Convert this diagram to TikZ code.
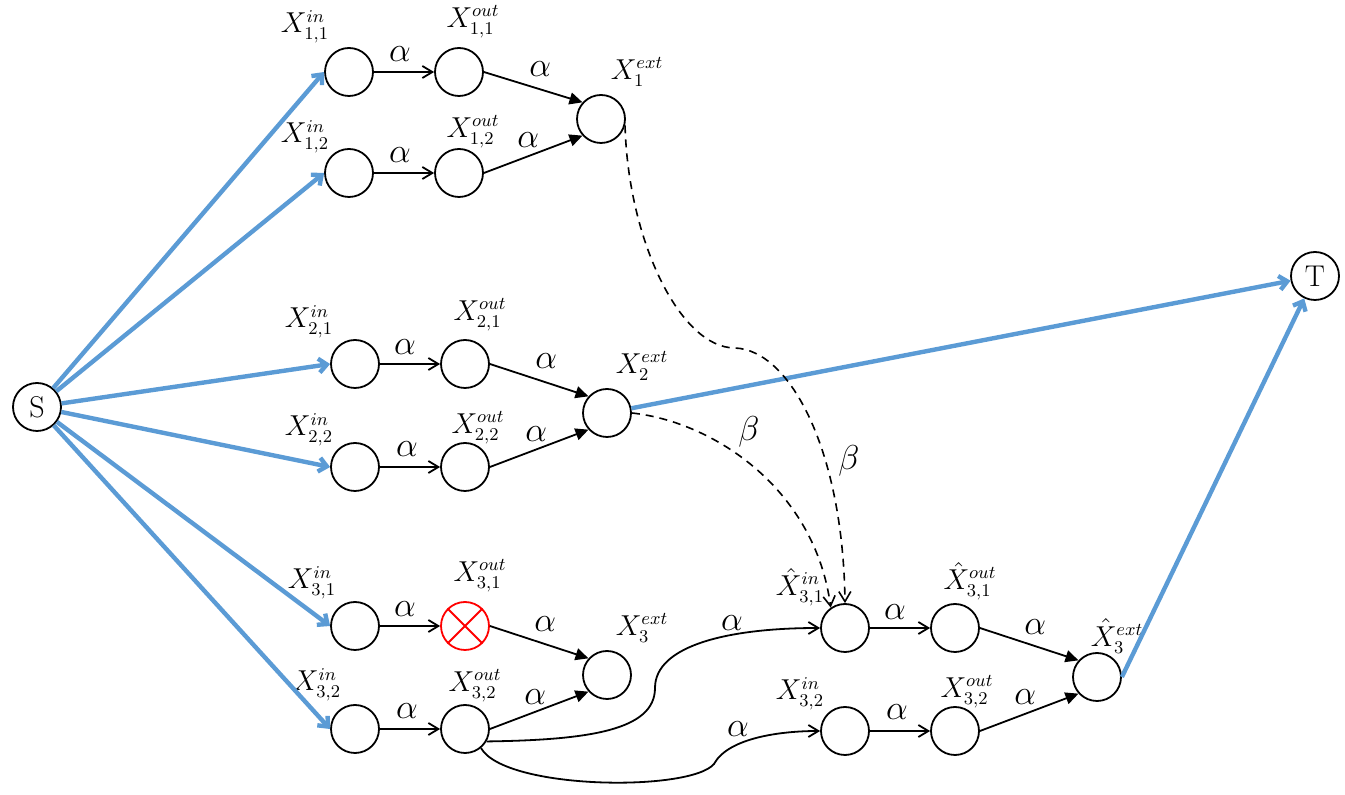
\documentclass[tikz,border=0pt]{standalone}
\usetikzlibrary{arrows.meta,calc}
\definecolor{myblue}{RGB}{91,155,213}
\begin{document}
\begin{tikzpicture}[x=0.5pt,y=-0.5pt,
  nd/.style={circle,draw,line width=0.9pt,minimum size=24pt,inner sep=0pt},
  lbl/.style={font=\fontsize{13.5}{15}\selectfont, inner sep=0pt},
  alab/.style={font=\fontsize{19}{21}\selectfont, inner sep=0pt},
  st/.style={font=\fontsize{15}{17}\selectfont},
  eo/.style={line width=0.9pt,-{Straight Barb[length=5pt,width=6pt]}},
  ef/.style={line width=0.9pt,-{Triangle[length=6.5pt,width=6pt]}},
  bl/.style={draw=myblue, line width=2.2pt, -{Straight Barb[length=4pt,width=7pt]}},
  dsh/.style={line width=0.8pt, dash pattern=on 4pt off 3pt, -{Straight Barb[length=5pt,width=6pt]}}
]
\useasboundingbox (0,0) rectangle (1345,795);

% nodes
\node[nd,st] (S) at (37,407) {S};
\node[nd,st] (T) at (1315,276) {T};

\node[nd] (a11) at (349,72) {};
\node[nd] (b11) at (459,72) {};
\node[nd] (a12) at (349,173) {};
\node[nd] (b12) at (459,173) {};
\node[nd] (c1) at (601,119) {};

\node[nd] (a21) at (355,364) {};
\node[nd] (b21) at (465,364) {};
\node[nd] (a22) at (355,467) {};
\node[nd] (b22) at (465,467) {};
\node[nd] (c2) at (607,413) {};

\node[nd] (a31) at (355,626) {};
\node[nd,draw=red] (b31) at (465,626) {};
\draw[red,line width=0.9pt] (b31.45) -- (b31.225) (b31.135) -- (b31.-45);
\node[nd] (a32) at (355,729) {};
\node[nd] (b32) at (465,729) {};
\node[nd] (c3) at (607,675) {};

\node[nd] (h31in) at (845,628) {};
\node[nd] (h31out) at (955,628) {};
\node[nd] (r32in) at (845,731) {};
\node[nd] (r32out) at (955,731) {};
\node[nd] (h3ext) at (1097,677) {};

% labels
\node[lbl] at ($(a11)+(-44,-45)$) {$X^{in}_{1,1}$};
\node[lbl] at ($(b11)+(14,-50)$) {$X^{out}_{1,1}$};
\node[lbl] at ($(a12)+(-44,-36)$) {$X^{in}_{1,2}$};
\node[lbl] at ($(b12)+(14,-41)$) {$X^{out}_{1,2}$};
\node[lbl] at ($(c1)+(36,-47)$) {$X^{ext}_{1}$};

\node[lbl] at ($(a21)+(-46,-42)$) {$X^{in}_{2,1}$};
\node[lbl] at ($(b21)+(15,-49)$) {$X^{out}_{2,1}$};
\node[lbl] at ($(a22)+(-46,-37)$) {$X^{in}_{2,2}$};
\node[lbl] at ($(b22)+(13,-39)$) {$X^{out}_{2,2}$};
\node[lbl] at ($(c2)+(35,-47)$) {$X^{ext}_{2}$};

\node[lbl] at ($(a31)+(-43,-43)$) {$X^{in}_{3,1}$};
\node[lbl] at ($(b31)+(15,-50)$) {$X^{out}_{3,1}$};
\node[lbl] at ($(a32)+(-38,-44)$) {$X^{in}_{3,2}$};
\node[lbl] at ($(b32)+(10,-43)$) {$X^{out}_{3,2}$};
\node[lbl] at ($(c3)+(35,-47)$) {$X^{ext}_{3}$};

\node[lbl] at ($(h31in)+(-45,-41)$) {$\hat{X}^{in}_{3,1}$};
\node[lbl] at ($(h31out)+(15,-47)$) {$\hat{X}^{out}_{3,1}$};
\node[lbl] at ($(r32in)+(-45,-37)$) {$X^{in}_{3,2}$};
\node[lbl] at ($(r32out)+(12,-39)$) {$X^{out}_{3,2}$};
\node[lbl] at ($(h3ext)+(20,-41)$) {$\hat{X}^{ext}_{3}$};

% blue edges
\draw[bl] (S) -- (a11.west);
\draw[bl] (S) -- (a12.west);
\draw[bl] (S) -- (a21.west);
\draw[bl] (S) -- (a22.west);
\draw[bl] (S) -- (a31.west);
\draw[bl] (S) -- (a32.west);
\draw[bl] (c2) -- (T);
\draw[bl] (h3ext.east) -- (T);

% group 1
\draw[eo] (a11) -- node[alab,shift={(-4,-18)}]{$\alpha$} (b11);
\draw[ef] (b11.east) -- node[alab,shift={(7,-18)}]{$\alpha$} (c1.138);
\draw[eo] (a12) -- node[alab,shift={(-4,-18)}]{$\alpha$} (b12);
\draw[ef] (b12.east) -- node[alab,shift={(-5,-14)}]{$\alpha$} (c1.222);

% group 2
\draw[eo] (a21) -- node[alab,shift={(-5,-17)}]{$\alpha$} (b21);
\draw[ef] (b21.east) -- node[alab,shift={(7,-19)}]{$\alpha$} (c2.138);
\draw[eo] (a22) -- node[alab,shift={(-3,-18)}]{$\alpha$} (b22);
\draw[ef] (b22.east) -- node[alab,shift={(-3,-14)}]{$\alpha$} (c2.222);

% group 3
\draw[eo] (a31) -- node[alab,shift={(-5,-17)}]{$\alpha$} (b31);
\draw[ef] (b31.east) -- node[alab,shift={(6,-18)}]{$\alpha$} (c3.138);
\draw[eo] (a32) -- node[alab,shift={(-3,-18)}]{$\alpha$} (b32);
\draw[ef] (b32.east) -- node[alab,shift={(-4,-13)}]{$\alpha$} (c3.222);

% right group
\draw[eo] (h31in) -- node[alab,shift={(-5,-16)}]{$\alpha$} (h31out);
\draw[ef] (h31out.east) -- node[alab,shift={(6,-17)}]{$\alpha$} (h3ext.138);
\draw[eo] (r32in) -- node[alab,shift={(-3,-19)}]{$\alpha$} (r32out);
\draw[ef] (r32out.east) -- node[alab,shift={(-4,-15)}]{$\alpha$} (h3ext.222);

% curved connectors
\draw[eo] (b32.-30) .. controls (590,740) and (655,730) .. (655,688)
   .. controls (655,645) and (730,628) .. (h31in.west);
\node[alab] (al1) at (732,623) {$\alpha$};
\draw[eo] (b32.-50) .. controls (505,790) and (690,792) .. (714,764)
   .. controls (728,738) and (780,731) .. (r32in.west);
\node[alab] (al2) at (738,729) {$\alpha$};

% dashed beta connectors
\draw[dsh] (c1.-15) .. controls (628,240) and (680,348) .. (735,348)
   .. controls (790,350) and (843,450) .. (h31in.north);
\node[alab] (be1) at (849,461) {$\beta$};
\draw[dsh] (c2.east) .. controls (715,422) and (815,490) .. (h31in.125);
\node[alab] (be2) at (749,432) {$\beta$};
\end{tikzpicture}
\end{document}
